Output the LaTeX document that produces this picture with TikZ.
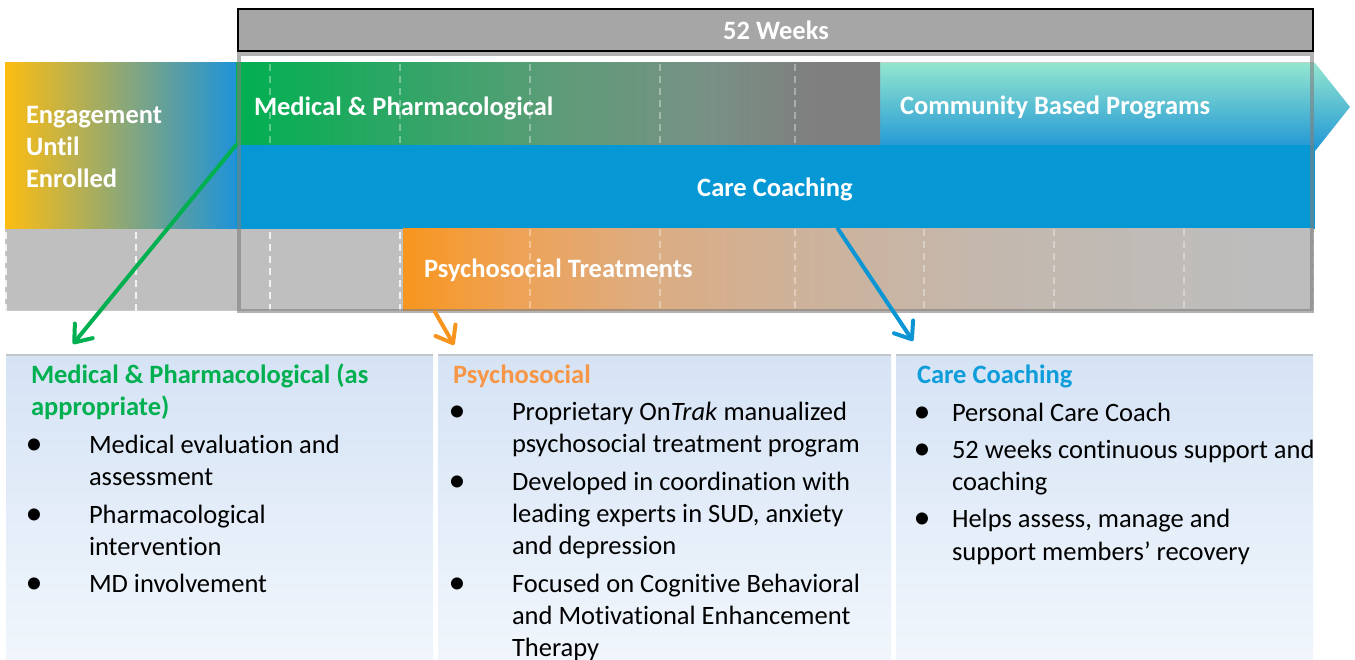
\documentclass[tikz,border=0pt]{standalone}
\usepackage{fontspec}
\setmainfont[Ligatures={NoCommon}]{Carlito}
\usetikzlibrary{arrows.meta}
\definecolor{cgreen}{HTML}{00B050}
\definecolor{cgray}{HTML}{7F7F7F}
\definecolor{cband}{HTML}{BFBFBF}
\definecolor{cweeks}{HTML}{A6A6A6}
\definecolor{cyellow}{HTML}{FDBD12}
\definecolor{cmidgray}{HTML}{A9A9A9}
\definecolor{cengblue}{HTML}{1F93D8}
\definecolor{cmedA}{HTML}{2FA666}
\definecolor{cmedB}{HTML}{5E9C78}
\definecolor{cmedC}{HTML}{789085}
\definecolor{ccare}{HTML}{0598D5}
\definecolor{cmint}{HTML}{93E6CF}
\definecolor{cmintmid}{HTML}{62C4D5}
\definecolor{ccomblue}{HTML}{1E95D6}
\definecolor{cpsy}{HTML}{F7961E}
\definecolor{cpsyA}{HTML}{EFA255}
\definecolor{cpsyB}{HTML}{DDAC80}
\definecolor{cpsyC}{HTML}{CDB29B}
\definecolor{cpsyD}{HTML}{C3B8AE}
\definecolor{cpsyend}{HTML}{BDBDBD}
\definecolor{cpaneltop}{HTML}{D5E3F5}
\definecolor{cpanelbot}{HTML}{F1F6FC}
\definecolor{cpanelline}{HTML}{C3C6CA}
\definecolor{horange}{HTML}{F79646}
\definecolor{aorange}{HTML}{F7941D}
\definecolor{hblue}{HTML}{0E9DDB}
\definecolor{ablue}{HTML}{0A96D4}
\pgfdeclarehorizontalshading{psyshade}{100bp}{color(0bp)=(cpsy); color(25bp)=(cpsy);
  color(31bp)=(cpsyA); color(38bp)=(cpsyB); color(47bp)=(cpsyC); color(58bp)=(cpsyD);
  color(72bp)=(cpsyend); color(100bp)=(cpsyend)}
\pgfdeclarehorizontalshading{medshade}{100bp}{color(0bp)=(cgreen); color(25bp)=(cgreen);
  color(38bp)=(cmedA); color(50bp)=(cmedB); color(62bp)=(cmedC);
  color(70bp)=(cgray); color(100bp)=(cgray)}
\begin{document}
\begin{tikzpicture}[x=1pt,y=-1pt,
  box/.style={inner sep=0pt,outer sep=0pt,anchor=north west},
  bartext/.style={inner sep=0pt,outer sep=0pt,anchor=base west,text=white,font=\fontsize{26.5}{32}\selectfont\bfseries},
  bodytext/.style={inner sep=0pt,outer sep=0pt,anchor=base west,text=black,font=\fontsize{26.5}{32}\selectfont},
  headtext/.style={inner sep=0pt,outer sep=0pt,anchor=base west,font=\fontsize{26.5}{32}\selectfont\bfseries},
  bul/.style={inner sep=0pt,outer sep=0pt,anchor=base,text=black,font=\fontsize{34}{34}\selectfont,yshift=-1.5pt},
  dashline/.style={draw=white,line width=2.5pt,dash pattern=on 7pt off 5pt,opacity=0.8},
  fadeline/.style={draw=white,line width=2.5pt,dash pattern=on 7pt off 5pt,opacity=0.35},
  panel/.style={box,top color=cpaneltop,bottom color=cpanelbot,minimum height=305pt},
  connector/.style={line width=4pt,line cap=round,-{Straight Barb[length=15pt,width=23pt,round]}}
]
\useasboundingbox (0,0) rectangle (1355,660);
\fill[white] (0,0) rectangle (1355,660);

% 52 weeks bar
\node[box,fill=cweeks,draw=black,line width=2pt,minimum width=1075pt,minimum height=42pt] (weeks) at (238,9) {};
\node[inner sep=0pt,anchor=base,text=white,font=\fontsize{26.5}{32}\selectfont\bfseries] (weekslbl) at (776,40) {52 Weeks};

% gray band with dashed week lines
\node[box,fill=cband,draw=cband!85!white,line width=1pt,minimum width=1308pt,minimum height=248pt] (band) at (5,63) {};
\foreach \x in {6,136,270,400,530,660,795,924,1054,1184,1313}
  \draw[dashline] (\x,64) -- (\x,311);

% engagement
\node[box,left color=cyellow,middle color=cmidgray,right color=cengblue,minimum width=231pt,minimum height=166pt] (eng) at (5,63) {};
\node[bartext] (eng1) at (26,124) {Engagement};
\node[bartext] (eng2) at (26,156) {Until};
\node[bartext] (eng3) at (26,188) {Enrolled};

% community based programs (arrow shape)
\shade[top color=cmint,middle color=cmintmid,bottom color=ccomblue]
  (880,63) -- (1315,63) -- (1350,107) -- (1315,151) -- (880,151) -- cycle;
\node[bartext] (comlbl) at (900,115) {Community Based Programs};

% medical & pharmacological
\node[box,shading=medshade,minimum width=644pt,minimum height=82pt] (med) at (236,63) {};
\foreach \x in {270,400,530,660,795}
  \draw[fadeline] (\x,64) -- (\x,145);
\node[bartext] (medlbl) at (254,116) {Medical \& Pharmacological};

% care coaching
\node[box,fill=ccare,minimum width=1079pt,minimum height=84pt] (care) at (236,145) {};
\node[inner sep=0pt,anchor=base,text=white,font=\fontsize{26.5}{32}\selectfont\bfseries] (carelbl) at (775,197) {Care Coaching};

% psychosocial treatments
\node[box,shading=psyshade,minimum width=910pt,minimum height=82pt] (psy) at (403,229) {};
\foreach \x in {530,660,795,924,1054,1184}
  \draw[fadeline] (\x,229) -- (\x,311);
\node[bartext] (psylbl) at (424,278) {Psychosocial Treatments};

% frame of the 52 weeks
\draw[cgray,opacity=0.6,line width=3.5pt] (239,54) rectangle (1312,311);

% lower panels
\node[panel,minimum width=427pt] (pleft) at (6,355) {};
\node[panel,minimum width=453pt] (pmid) at (438,355) {};
\node[panel,minimum width=417pt] (pright) at (896,355) {};
\draw[cpanelline,line width=2pt] (pleft.north west) -- (pleft.north east);
\draw[cpanelline,line width=2pt] (pmid.north west) -- (pmid.north east);
\draw[cpanelline,line width=2pt] (pright.north west) -- (pright.north east);

% connectors
\coordinate (gtip) at (73,344);
\coordinate (ostart) at (435,312);
\coordinate (otip) at (454,345);
\coordinate (bstart) at (838,229);
\coordinate (btip) at (913,341);
\draw[connector,draw=cgreen] (med.south west) -- (gtip);
\draw[connector,draw=aorange] (ostart) -- (otip);
\draw[connector,draw=ablue] (bstart) -- (btip);

% left panel text
\node[headtext,text=cgreen] (lh1) at (31,383) {Medical \& Pharmacological (as};
\node[headtext,text=cgreen] (lh2) at (31,415) {appropriate)};
\node[bul] (lb1) at (34,453) {•};
\node[bodytext] (lt1) at (89,453) {Medical evaluation and};
\node[bodytext] (lt2) at (89,485) {assessment};
\node[bul] (lb2) at (34,523) {•};
\node[bodytext] (lt3) at (89,523) {Pharmacological};
\node[bodytext] (lt4) at (89,555) {intervention};
\node[bul] (lb3) at (34,592) {•};
\node[bodytext] (lt5) at (89,592) {MD involvement};

% middle panel text
\node[headtext,text=horange] (mh1) at (453,383) {Psychosocial};
\node[bul] (mb1) at (457,420) {•};
\node[bodytext] (mt1) at (512,420) {Proprietary On\textit{Trak} manualized};
\node[bodytext] (mt2) at (512,452) {psychosocial treatment program};
\node[bul] (mb2) at (457,490) {•};
\node[bodytext] (mt3) at (512,490) {Developed in coordination with};
\node[bodytext] (mt4) at (512,522) {leading experts in SUD, anxiety};
\node[bodytext] (mt5) at (512,554) {and depression};
\node[bul] (mb3) at (457,592) {•};
\node[bodytext] (mt6) at (512,592) {Focused on Cognitive Behavioral};
\node[bodytext] (mt7) at (512,624) {and Motivational Enhancement};
\node[bodytext] (mt8) at (512,656) {Therapy};

% right panel text
\node[headtext,text=hblue] (rh1) at (917,383) {Care Coaching};
\node[bul] (rb1) at (922,421) {•};
\node[bodytext] (rt1) at (952,421) {Personal Care Coach};
\node[bul] (rb2) at (922,458) {•};
\node[bodytext] (rt2) at (952,458) {52 weeks continuous support and};
\node[bodytext] (rt3) at (952,490) {coaching};
\node[bul] (rb3) at (922,527) {•};
\node[bodytext] (rt4) at (952,527) {Helps assess, manage and};
\node[bodytext] (rt5) at (952,560) {support members’ recovery};
\end{tikzpicture}
\end{document}
